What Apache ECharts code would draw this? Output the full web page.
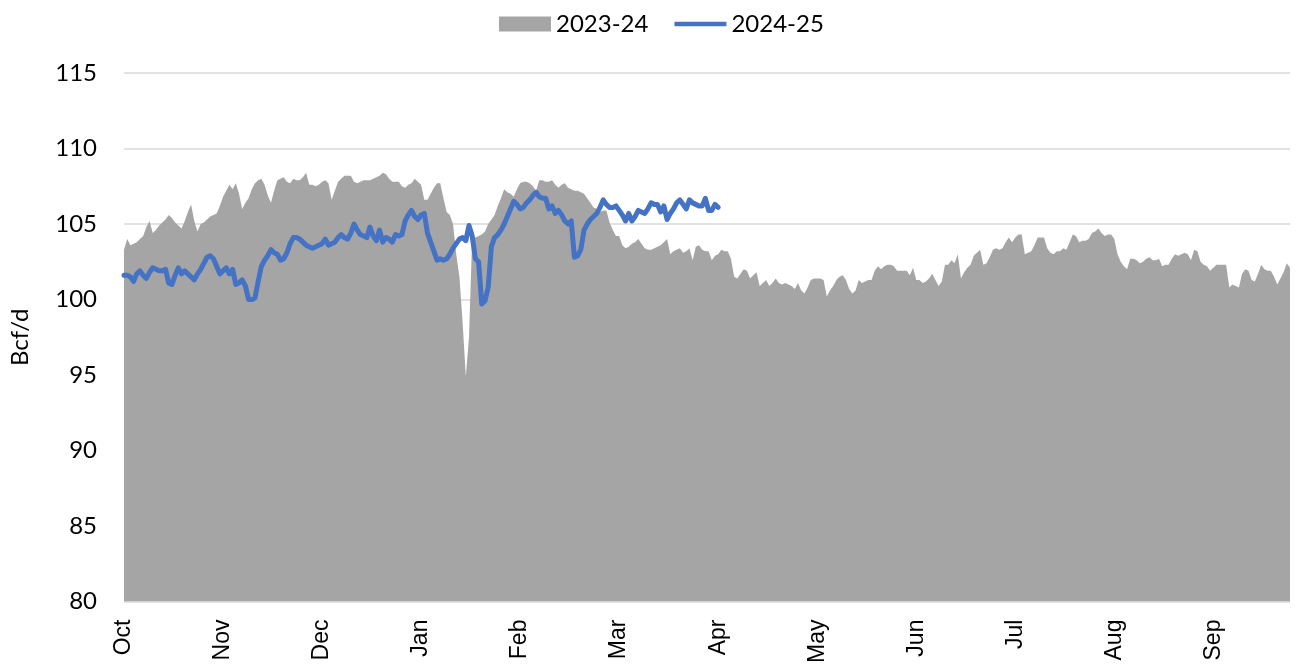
<!DOCTYPE html>
<html>
<head>
<meta charset="utf-8">
<script src="https://cdn.jsdelivr.net/npm/echarts@6/dist/echarts.min.js"></script>
<style>
  html, body { margin: 0; padding: 0; background: #fff; }
  #main { width: 1299px; height: 666px; }
</style>
</head>
<body>
<div id="main"></div>
<script>
// month labels shown every 31 days on the category axis
var tickLabels = ['Oct', 'Nov', 'Dec', 'Jan', 'Feb', 'Mar', 'Apr', 'May', 'Jun', 'Jul', 'Aug', 'Sep'];

// 2023-24 daily values, Oct 1 2023 .. Sep 30 2024 (Bcf/d)
var season2324 = [
  103.3, 104.0, 103.6, 103.7, 103.8, 104.0, 104.2, 104.8, 105.2, 104.4,
  104.6, 104.9, 105.1, 105.3, 105.6, 105.4, 105.1, 104.9, 104.7, 105.2,
  105.8, 106.3, 105.2, 104.5, 105.0, 105.1, 105.3, 105.5, 105.6, 105.7,
  106.2, 106.8, 107.2, 107.6, 107.3, 107.7, 107.0, 106.0, 106.4, 106.7,
  107.3, 107.7, 107.9, 108.0, 107.6, 106.9, 106.4, 107.2, 107.9, 108.0,
  108.1, 107.8, 107.7, 108.0, 107.9, 107.9, 108.1, 108.4, 107.6, 107.6,
  107.5, 107.6, 107.8, 107.9, 107.7, 106.6, 107.2, 107.8, 108.0, 108.2,
  108.2, 108.2, 107.8, 107.7, 107.8, 107.9, 107.9, 107.9, 108.0, 108.1,
  108.2, 108.4, 108.3, 108.0, 107.8, 107.8, 107.8, 107.5, 107.4, 107.6,
  107.7, 108.0, 107.8, 107.6, 106.6, 106.6, 107.0, 107.4, 107.7, 107.7,
  106.7, 105.8, 105.6, 105.0, 103.0, 101.5, 98.5, 94.9, 97.5, 104.2,
  104.1, 104.2, 104.3, 104.5, 105.0, 105.3, 105.6, 106.2, 106.7, 107.3,
  107.1, 107.0, 106.8, 107.3, 107.7, 107.8, 107.8, 107.7, 107.5, 107.2,
  107.9, 107.9, 107.8, 107.8, 107.9, 107.6, 107.4, 107.6, 107.7, 107.4,
  107.3, 107.2, 107.2, 107.1, 107.0, 106.7, 106.4, 106.1, 106.0, 105.8,
  105.9, 105.9, 105.1, 104.6, 104.2, 104.2, 103.6, 103.4, 103.5, 103.7,
  103.8, 104.0, 103.7, 103.4, 103.3, 103.3, 103.4, 103.5, 103.6, 103.8,
  104.0, 103.0, 103.2, 103.3, 103.4, 103.1, 103.2, 103.4, 102.6, 103.5,
  103.6, 103.3, 103.2, 103.2, 102.6, 102.9, 103.0, 103.3, 103.2, 103.2,
  102.7, 101.5, 101.4, 101.7, 102.0, 101.9, 101.4, 101.6, 101.8, 100.9,
  101.1, 101.3, 100.9, 101.1, 101.4, 101.1, 101.0, 101.1, 101.0, 100.9,
  100.7, 101.1, 100.6, 100.4, 100.8, 101.3, 101.4, 101.4, 101.4, 101.3,
  100.2, 100.6, 100.9, 101.3, 101.5, 101.6, 101.3, 100.7, 100.4, 100.6,
  101.3, 101.1, 101.2, 101.3, 101.3, 101.9, 102.2, 102.0, 102.2, 102.3,
  102.3, 102.2, 101.9, 101.9, 101.9, 101.9, 101.6, 102.1, 101.3, 101.3,
  101.1, 101.2, 101.4, 101.7, 101.3, 100.9, 101.2, 102.3, 102.3, 102.6,
  102.4, 103.0, 101.4, 101.8, 102.1, 102.3, 102.9, 103.1, 103.3, 102.3,
  102.4, 102.8, 103.3, 103.4, 103.3, 103.4, 103.8, 104.1, 103.8, 104.1,
  104.3, 104.3, 103.0, 103.1, 103.2, 103.6, 104.1, 104.1, 104.1, 103.4,
  103.1, 103.0, 103.2, 103.2, 103.4, 103.3, 103.8, 104.3, 104.2, 103.8,
  103.9, 103.9, 104.0, 104.4, 104.5, 104.7, 104.4, 104.2, 104.3, 104.3,
  104.0, 103.0, 102.5, 102.2, 102.0, 102.7, 102.7, 102.6, 102.4, 102.5,
  102.7, 102.8, 102.6, 102.6, 102.7, 102.2, 102.3, 102.3, 102.7, 103.0,
  102.9, 103.0, 103.1, 103.0, 102.6, 103.3, 103.2, 102.5, 102.3, 102.2,
  101.9, 102.1, 102.3, 102.3, 102.3, 102.3, 100.8, 101.0, 100.9, 100.8,
  101.7, 102.0, 101.9, 101.3, 101.2, 101.7, 102.3, 102.0, 101.9, 101.9,
  101.5, 101.0, 101.4, 101.8, 102.4, 102.1
];

// 2024-25 daily values, Oct 1 2024 .. early Apr 2025 (Bcf/d)
var season2425 = [
  101.6, 101.6, 101.5, 101.2, 101.7, 101.9, 101.6, 101.4, 101.8, 102.1,
  102.0, 101.9, 101.9, 102.0, 101.1, 101.0, 101.6, 102.1, 101.7, 101.9,
  101.7, 101.5, 101.3, 101.7, 102.0, 102.4, 102.8, 102.9, 102.7, 102.2,
  101.7, 101.9, 102.1, 101.7, 102.0, 101.0, 101.1, 101.3, 100.9, 100.0,
  100.0, 100.1, 101.2, 102.2, 102.6, 102.9, 103.3, 103.1, 103.0, 102.6,
  102.7, 103.1, 103.7, 104.1, 104.1, 104.0, 103.8, 103.6, 103.5, 103.4,
  103.5, 103.6, 103.7, 104.0, 103.6, 103.7, 103.8, 104.1, 104.3, 104.1,
  104.0, 104.4, 105.0, 104.6, 104.3, 104.2, 104.1, 104.8, 104.2, 103.9,
  104.6, 103.8, 104.1, 104.0, 103.8, 104.3, 104.2, 104.3, 105.2, 105.6,
  105.9, 105.5, 105.3, 105.6, 105.7, 104.4, 103.8, 103.2, 102.6, 102.7,
  102.6, 102.7, 103.0, 103.4, 103.7, 104.0, 104.1, 103.9, 104.9, 104.2,
  102.7, 102.5, 99.7, 99.9, 100.8, 103.5, 104.1, 104.3, 104.6, 105.0,
  105.5, 106.0, 106.5, 106.3, 106.0, 106.1, 106.4, 106.6, 106.9, 107.1,
  106.8, 106.7, 106.7, 106.0, 106.2, 105.7, 105.9, 105.6, 105.2, 105.0,
  105.2, 102.8, 102.9, 103.3, 104.6, 105.0, 105.3, 105.5, 105.7, 106.1,
  106.6, 106.3, 106.1, 106.1, 106.2, 105.9, 105.6, 105.2, 105.7, 105.2,
  105.5, 105.9, 105.8, 105.7, 106.0, 106.4, 106.3, 106.3, 105.8, 106.2,
  105.3, 105.7, 106.0, 106.4, 106.6, 106.3, 106.0, 106.6, 106.4, 106.3,
  106.2, 106.2, 106.7, 105.9, 105.9, 106.3, 106.1
];

// one category per day of the 2023-24 season
var days = [];
var d = new Date(2023, 9, 1);
for (var i = 0; i < season2324.length; i++) {
  days.push((d.getMonth() + 1) + '/' + d.getDate());
  d.setDate(d.getDate() + 1);
}

var chart = echarts.init(document.getElementById('main'), null, { renderer: 'canvas' });

var labelFont = 'Lato, "Noto Sans", sans-serif';

var option = {
  animation: false,
  color: ['#a5a5a5', '#4472c4'],
  legend: {
    left: 494,
    top: 7,
    itemGap: 26,
    itemWidth: 52,
    itemHeight: 15,
    textStyle: { fontFamily: labelFont, fontSize: 24, color: '#000' },
    data: [
      { name: '2023-24', icon: 'rect' },
      { name: '2024-25', icon: 'path://M0,0H55V5H0Z' }
    ]
  },
  grid: {
    left: 122,
    right: 9,
    top: 73,
    bottom: 64
  },
  xAxis: {
    type: 'category',
    boundaryGap: false,
    data: days,
    axisLine: { show: false },
    axisTick: { show: false },
    axisLabel: {
      interval: 30,
      rotate: 90,
      margin: 18,
      color: '#000',
      fontSize: 23,
      fontFamily: '"Liberation Sans", Arial, sans-serif',
      formatter: function (value, index) {
        return tickLabels[Math.round(index / 31)];
      }
    }
  },
  yAxis: {
    type: 'value',
    min: 80,
    max: 115,
    interval: 5,
    name: 'Bcf/d',
    nameLocation: 'middle',
    nameRotate: 90,
    nameGap: 92,
    nameTextStyle: { fontFamily: labelFont, fontSize: 24, color: '#000' },
    axisLine: { show: false },
    axisTick: { show: false },
    axisLabel: { margin: 27, color: '#000', fontSize: 24, fontFamily: labelFont },
    splitLine: { lineStyle: { color: '#d9d9d9', width: 1.5 } }
  },
  series: [
    {
      name: '2023-24',
      type: 'line',
      data: season2324,
      symbol: 'none',
      lineStyle: { width: 0 },
      areaStyle: { color: '#a5a5a5', opacity: 1 },
      z: 1
    },
    {
      name: '2024-25',
      type: 'line',
      data: season2425,
      symbol: 'none',
      lineStyle: { color: '#4472c4', width: 5, cap: 'round', join: 'round' },
      z: 2
    }
  ]
};

chart.setOption(option);
</script>
</body>
</html>
